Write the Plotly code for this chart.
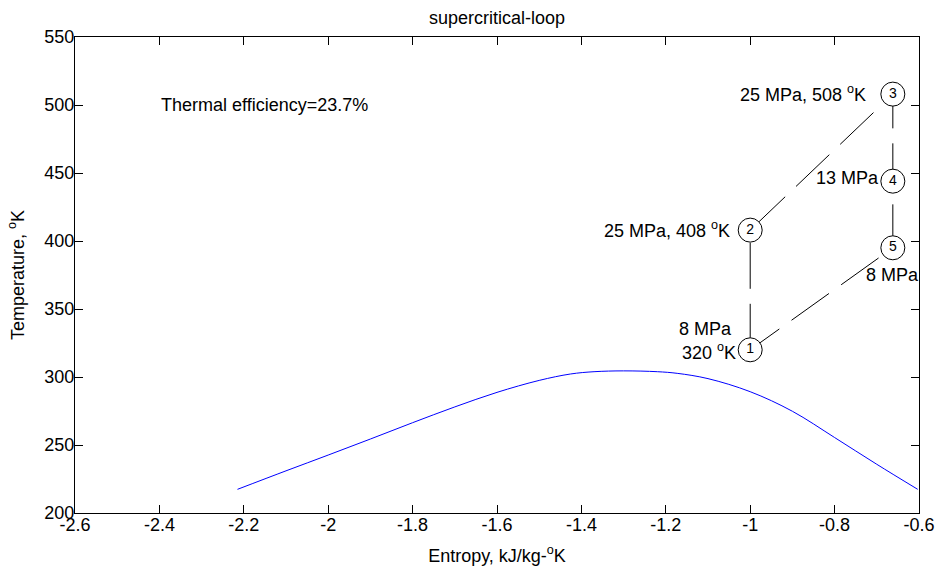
import plotly.graph_objects as go

# Saturation dome
dome_s = [-2.215, -2.1, -2.0, -1.9, -1.8, -1.7, -1.6, -1.5, -1.426, -1.37,
          -1.3, -1.22, -1.173, -1.1, -1.0, -0.9, -0.8, -0.7, -0.603]
dome_T = [217.4, 231.0, 242.6, 254.4, 266.4, 278.0, 288.7, 297.5, 302.2, 303.9,
          304.5, 303.9, 302.7, 298.8, 289.2, 274.8, 255.5, 235.8, 217.4]

# Cycle state points
state_id = ["1", "2", "3", "4", "5"]
state_s = [-1.0, -1.0, -0.662, -0.662, -0.662]
state_T = [320, 408, 508, 444, 395]
cycle_order = [0, 1, 2, 3, 4, 0]

# State labels: (state index, text)
label_state = [2, 3, 1, 4, 0, 0]
label_text = ["25 MPa, 508 <sup>o</sup>K", "13 MPa", "25 MPa, 408 <sup>o</sup>K",
              "8 MPa", "8 MPa", "320 <sup>o</sup>K"]

xtick_vals = [-2.6, -2.4, -2.2, -2.0, -1.8, -1.6, -1.4, -1.2, -1.0, -0.8, -0.6]
xtick_text = ["-2.6", "-2.4", "-2.2", "-2", "-1.8", "-1.6", "-1.4", "-1.2", "-1", "-0.8", "-0.6"]
ytick_vals = [200, 250, 300, 350, 400, 450, 500, 550]

title_text = "supercritical-loop"
efficiency_text = "Thermal efficiency=23.7%"
efficiency_pos = (-2.4, 500)

FONT = "Liberation Sans, Arial, Helvetica, sans-serif"
FS = 18

fig = go.Figure()
fig.add_trace(go.Scatter(x=dome_s, y=dome_T, mode="lines",
                         line=dict(color="#0000ff", width=1, shape="spline", smoothing=1.0),
                         showlegend=False, hoverinfo="skip"))
fig.add_trace(go.Scatter(x=[state_s[i] for i in cycle_order],
                         y=[state_T[i] for i in cycle_order], mode="lines",
                         line=dict(color="black", width=1, dash="46px,15px"),
                         showlegend=False, hoverinfo="skip"))
fig.add_trace(go.Scatter(x=state_s, y=state_T, mode="markers+text", text=state_id,
                         textposition="middle center",
                         textfont=dict(family=FONT, size=14, color="black"),
                         marker=dict(symbol="circle", size=24, color="white",
                                     line=dict(color="black", width=1)),
                         showlegend=False, hoverinfo="skip"))

# label placement styles (pixel offsets relative to state point)
label_style = [
    dict(xanchor="right", yanchor="middle", xshift=-25, yshift=1),
    dict(xanchor="right", yanchor="middle", xshift=-12, yshift=3),
    dict(xanchor="right", yanchor="middle", xshift=-18, yshift=1),
    dict(xanchor="center", yanchor="middle", xshift=0, yshift=-27),
    dict(xanchor="right", yanchor="middle", xshift=-16, yshift=21),
    dict(xanchor="right", yanchor="middle", xshift=-12, yshift=-2),
]
for si, txt, st in zip(label_state, label_text, label_style):
    fig.add_annotation(x=state_s[si], y=state_T[si], text=txt, showarrow=False,
                       font=dict(family=FONT, size=FS, color="black"), **st)

fig.add_annotation(x=efficiency_pos[0], y=efficiency_pos[1], text=efficiency_text,
                   showarrow=False, xanchor="left", yanchor="middle",
                   font=dict(family=FONT, size=FS, color="black"))

axis_common = dict(showline=True, linecolor="black", linewidth=1, mirror="ticks",
                   ticks="inside", ticklen=8, tickcolor="black", tickwidth=1,
                   showgrid=False, zeroline=False, automargin=False,
                   tickfont=dict(family=FONT, size=FS, color="black"))

fig.update_layout(
    width=935, height=571,
    margin=dict(l=75, r=16, t=37, b=58),
    paper_bgcolor="white", plot_bgcolor="white",
    font=dict(family=FONT, size=FS, color="black"),
    title=dict(text=title_text, x=0.5, xref="paper", xanchor="center",
               y=1 - 18 / 571, yref="container", yanchor="middle",
               font=dict(family=FONT, size=FS, color="black")),
    xaxis=dict(range=[-2.6, -0.6], tickvals=xtick_vals, ticktext=xtick_text,
               ticklabelstandoff=-5,
               title=dict(text="Entropy, kJ/kg-<sup>o</sup>K", standoff=15,
                          font=dict(family=FONT, size=FS, color="black")),
               **axis_common),
    yaxis=dict(range=[200, 550], tickvals=ytick_vals, ticklabelstandoff=-4,
               title=dict(text="Temperature, <sup>o</sup>K", standoff=15,
                          font=dict(family=FONT, size=FS, color="black")),
               **axis_common),
)

# remove the browser's default page margin so the figure fills the window exactly
fig.write_html("out.html", config={"displayModeBar": False},
               post_script="document.body.style.margin='0';")
